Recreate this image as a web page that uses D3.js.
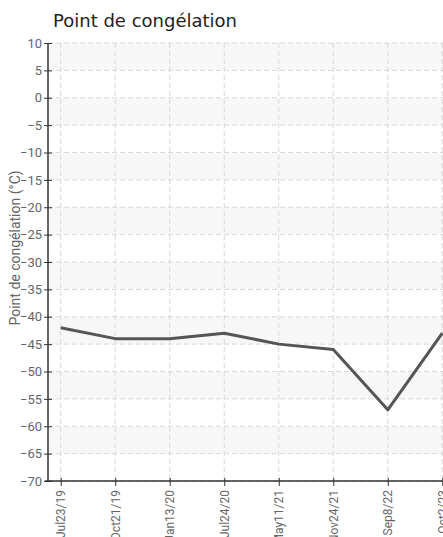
<!DOCTYPE html>
<html>
<head>
<meta charset="utf-8">
<script src="https://cdn.jsdelivr.net/npm/d3@7"></script>
<style>
  body { margin: 0; background: #fff; }
  .tick text { font-family: "Roboto", sans-serif; font-size: 13px; fill: #666; }
  .x-axis .tick text { font-size: 12px; }
</style>
</head>
<body>
<div id="chart"></div>
<script>
// Dates (categories) and freezing point values
const dates = ["Jul23/19", "Oct21/19", "Jan13/20", "Jul24/20", "May11/21", "Nov24/21", "Sep8/22", "Oct2/23"];
const freezingPoint = [-42, -44, -44, -43, -45, -46, -57, -43];
const yTicks = [10, 5, 0, -5, -10, -15, -20, -25, -30, -35, -40, -45, -50, -55, -60, -65, -70];

const W = 443, H = 537;
const margin = { top: 43, right: 0, bottom: 56, left: 48 };
const plotH = H - margin.top - margin.bottom;

const svg = d3.select("#chart")
  .append("svg")
    .attr("width", W)
    .attr("height", H);

const g = svg.append("g")
  .attr("transform", `translate(${margin.left},${margin.top})`);

// Scales
const xScale = d3.scalePoint()
  .domain(dates)
  .range([12.7, 394.3]);
const yScale = d3.scaleLinear()
  .domain([-70, 10])
  .range([plotH, 0]);

// Alternating bands
const bands = yTicks.slice(0, -1).filter((d, i) => i % 2 === 0);
g.selectAll(".band")
  .data(bands)
  .join("rect")
    .attr("class", "band")
    .attr("x", 0)
    .attr("width", W - margin.left)
    .attr("y", d => yScale(d))
    .attr("height", d => yScale(d - 5) - yScale(d))
    .attr("fill", "#f7f7f7");

// Grid lines
g.selectAll(".hgrid")
  .data(yTicks)
  .join("line")
    .attr("class", "hgrid")
    .attr("x1", 0)
    .attr("x2", W - margin.left)
    .attr("y1", d => yScale(d))
    .attr("y2", d => yScale(d))
    .attr("stroke", "#d9d9d9")
    .attr("stroke-dasharray", "5,3");

g.selectAll(".vgrid")
  .data(dates)
  .join("line")
    .attr("class", "vgrid")
    .attr("x1", d => xScale(d))
    .attr("x2", d => xScale(d))
    .attr("y1", 0)
    .attr("y2", plotH)
    .attr("stroke", "#d9d9d9")
    .attr("stroke-dasharray", "5,3");

// Y axis
const yAxis = g.append("g")
  .call(d3.axisLeft(yScale).tickValues(yTicks).tickSize(4).tickPadding(2));
yAxis.select(".domain").remove();
yAxis.selectAll(".tick line")
  .attr("x1", 4)
  .attr("stroke", "#333");
g.append("line")
  .attr("x1", 0).attr("x2", 0)
  .attr("y1", 0).attr("y2", plotH)
  .attr("stroke", "#333")
  .attr("stroke-width", 1.5);

// X axis
const xAxis = g.append("g")
  .attr("class", "x-axis")
  .attr("transform", `translate(0,${plotH})`)
  .call(d3.axisBottom(xScale).tickSize(5).tickSizeOuter(0));
xAxis.select(".domain").remove();
xAxis.selectAll(".tick line")
  .attr("y1", -3)
  .attr("y2", 5)
  .attr("stroke", "#333");
xAxis.selectAll(".tick text")
  .attr("transform", "rotate(-90)")
  .attr("x", -9)
  .attr("y", 0)
  .attr("dy", "0.35em")
  .style("text-anchor", "end");
g.append("line")
  .attr("x1", -3).attr("x2", W - margin.left)
  .attr("y1", plotH).attr("y2", plotH)
  .attr("stroke", "#333")
  .attr("stroke-width", 1.5);

// Line
const line = d3.line()
  .x((d, i) => xScale(dates[i]))
  .y(d => yScale(d));
g.append("path")
  .datum(freezingPoint)
  .attr("fill", "none")
  .attr("stroke", "#555")
  .attr("stroke-width", 3)
  .attr("stroke-linejoin", "round")
  .attr("d", line);

// Title
svg.append("text")
  .attr("x", 53)
  .attr("y", 27)
  .style("font-family", "DejaVu Sans, sans-serif")
  .style("font-size", "18px")
  .style("fill", "#222")
  .text("Point de congélation");

// Y axis label
svg.append("text")
  .attr("transform", "rotate(-90)")
  .attr("x", -248)
  .attr("y", 15)
  .attr("dy", "0.35em")
  .style("text-anchor", "middle")
  .style("font-family", "Roboto, sans-serif")
  .style("font-size", "14px")
  .style("fill", "#666")
  .text("Point de congélation (°C)");
</script>
</body>
</html>
